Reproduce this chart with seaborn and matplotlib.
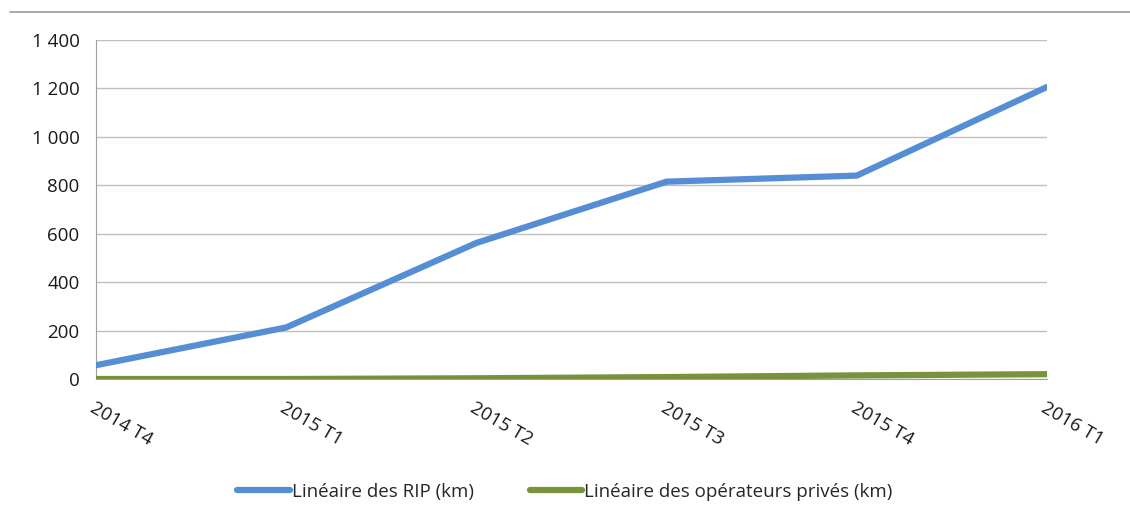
import pandas as pd
import seaborn as sns
import matplotlib.pyplot as plt
from matplotlib.lines import Line2D

# data
quarters = ["2014 T4", "2015 T1", "2015 T2", "2015 T3", "2015 T4", "2016 T1"]
rip_km = [57, 213, 562, 815, 840, 1206]
prives_km = [0, 0, 3, 8, 15, 20]
series_names = ["Linéaire des RIP (km)", "Linéaire des opérateurs privés (km)"]
yticks = [0, 200, 400, 600, 800, 1000, 1200, 1400]
ytick_labels = ["0", "200", "400", "600", "800", "1 000", "1 200", "1 400"]

df = pd.DataFrame({"trimestre": quarters * 2,
                   "km": rip_km + prives_km,
                   "serie": [series_names[0]] * 6 + [series_names[1]] * 6})
df["x"] = list(range(6)) * 2

sns.set_style("white")
plt.rcParams["font.family"] = ["Open Sans", "DejaVu Sans"]
colors = {series_names[0]: "#558ED5", series_names[1]: "#77933C"}
fs = 13.5

fig = plt.figure(figsize=(11.3, 5.23), dpi=100)
ax = fig.add_axes([0.085, 0.2753, 0.8415, 0.6482])

sns.lineplot(data=df, x="x", y="km", hue="serie", palette=colors,
             linewidth=4.5, legend=False, ax=ax, zorder=3)

ax.set_xlim(0, 5)
ax.set_ylim(0, 1400)
ax.set_yticks(yticks)
ax.set_yticklabels(ytick_labels, fontsize=fs, color="#1a1a1a")
ax.set_xticks(range(6))
ax.set_xticklabels(quarters, rotation=-30, ha="left", va="top",
                   rotation_mode="anchor", fontsize=fs, color="#1a1a1a")
ax.set_xlabel("")
ax.set_ylabel("")
ax.grid(axis="y", color="#BFBFBF", linewidth=1)
for s in ["top", "right"]:
    ax.spines[s].set_visible(False)
ax.spines["left"].set_color("#A0A0A0")
ax.spines["bottom"].set_color("#A0A0A0")
ax.tick_params(axis="both", length=6, color="#A0A0A0", width=1)
ax.tick_params(axis="x", pad=8)
ax.tick_params(axis="y", pad=6)

handles = [Line2D([0], [0], color=colors[n], lw=4.5) for n in series_names]
fig.legend(handles, series_names, loc="center", bbox_to_anchor=(0.5, 0.06),
           ncol=2, frameon=False, fontsize=fs, handlelength=2.8,
           handletextpad=0.1, columnspacing=3.0)

# thin border line at the top of the figure
fig.add_artist(Line2D([0.009, 1.0], [0.977, 0.977], color="#999999", lw=1.2,
                      transform=fig.transFigure))

fig.savefig("out.png", dpi=100)
